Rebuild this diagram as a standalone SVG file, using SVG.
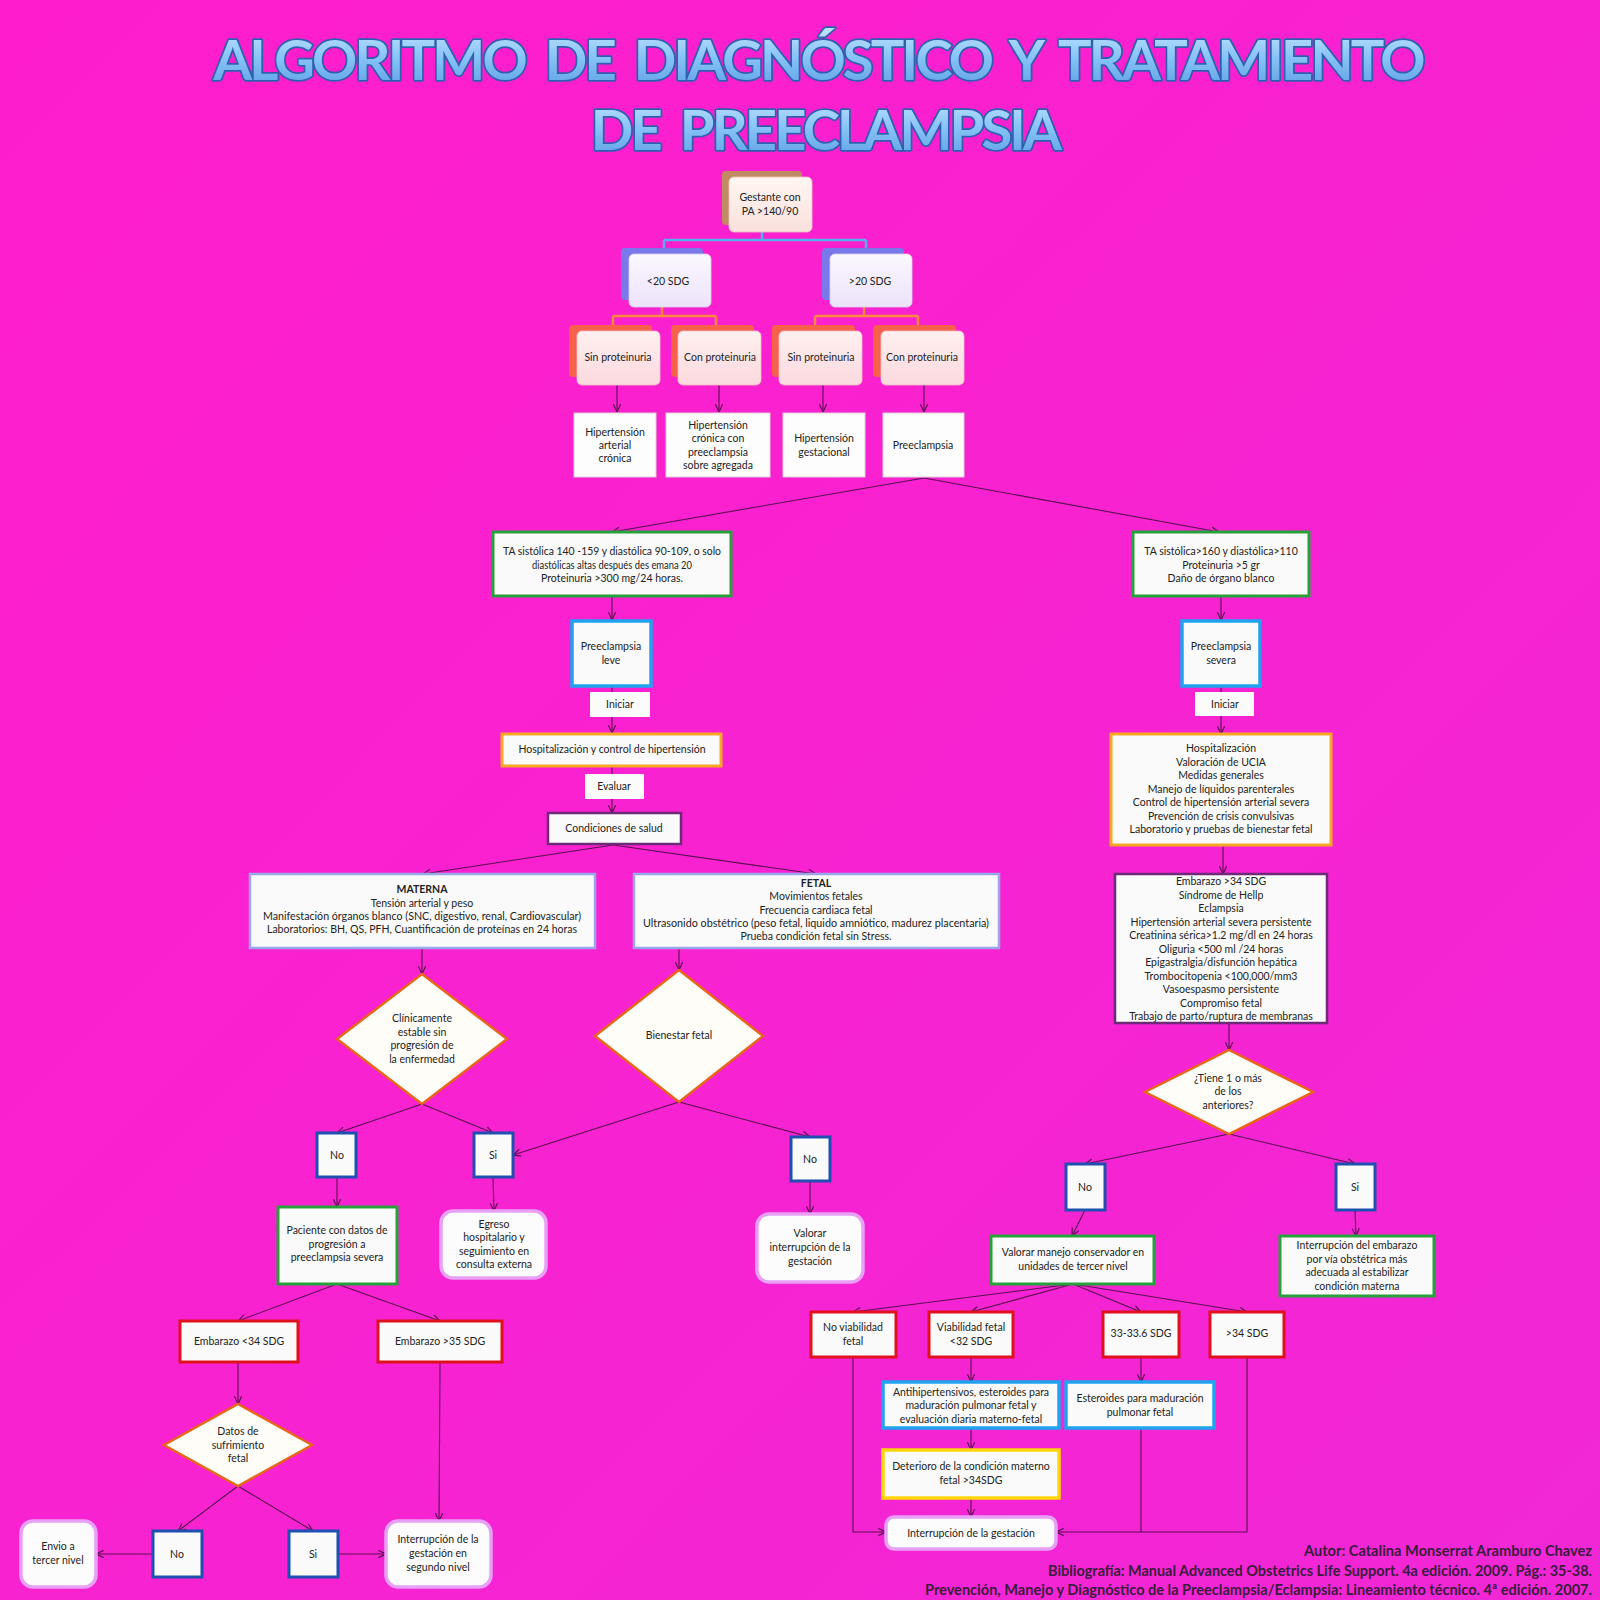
<svg xmlns="http://www.w3.org/2000/svg" width="1600" height="1600" viewBox="0 0 1600 1600">
<defs>
  <linearGradient id="bg" x1="0" y1="0" x2="1" y2="1">
    <stop offset="0" stop-color="#ff1dcb"/>
    <stop offset="1" stop-color="#f127d6"/>
  </linearGradient>
  <linearGradient id="titleFill" x1="0" y1="0" x2="0" y2="1">
    <stop offset="0" stop-color="#c4e6ff"/>
    <stop offset="0.5" stop-color="#86c2f6"/>
    <stop offset="1" stop-color="#5b9de4"/>
  </linearGradient>
  <linearGradient id="f1" x1="0" y1="0" x2="0" y2="1">
    <stop offset="0" stop-color="#fff6f2"/>
    <stop offset="1" stop-color="#f9e0dc"/>
  </linearGradient>
  <linearGradient id="f2" x1="0" y1="0" x2="0" y2="1">
    <stop offset="0" stop-color="#fbf8ff"/>
    <stop offset="1" stop-color="#ece2fa"/>
  </linearGradient>
  <linearGradient id="f3" x1="0" y1="0" x2="0" y2="1">
    <stop offset="0" stop-color="#fff0f0"/>
    <stop offset="1" stop-color="#fbd9de"/>
  </linearGradient>
  <marker id="ah" viewBox="0 0 10 10" refX="9.5" refY="5" markerWidth="9" markerHeight="9" orient="auto" markerUnits="userSpaceOnUse">
    <path d="M1,1 L9.5,5 L1,9" fill="none" stroke="#5a0f50" stroke-width="1.3"/>
  </marker>
  <style>
    .t{font-family:Lato,"Liberation Sans",sans-serif;font-size:10.5px;fill:#222;text-anchor:middle}
    .b{font-weight:bold}
    .plain{fill:#fdfdfd;stroke:#d8d0d8;stroke-width:1}
    .grn{fill:#fafafa;stroke:#27a13a;stroke-width:3}
    .cyan{fill:#fafafa;stroke:#1fa3f0;stroke-width:3.5}
    .orn{fill:#fafafa;stroke:#f6a824;stroke-width:3}
    .yel{fill:#fafafa;stroke:#ffd60a;stroke-width:3.5}
    .pur{fill:#fafafa;stroke:#6c2a78;stroke-width:2.5}
    .lav{fill:#fafafa;stroke:#9aa6ea;stroke-width:2.5}
    .blu{fill:#fafafa;stroke:#1f4fb0;stroke-width:3}
    .red{fill:#fafafa;stroke:#e0101c;stroke-width:3}
    .dia{fill:#fffdf8;stroke:#e8661a;stroke-width:2.5}
    .rnd{fill:#fcfcfc;stroke:#e7a0f6;stroke-width:3.5}
    .lbl{fill:#fbfbfb}
    .sh1{fill:#c28a62}
    .sh2{fill:#7a78ea}
    .sh3{fill:#f7604a}
    .fr1{fill:url(#f1);stroke:#e8c8c0;stroke-width:0.8}
    .fr2{fill:url(#f2);stroke:#d8d0f0;stroke-width:0.8}
    .fr3{fill:url(#f3);stroke:#f0c0c8;stroke-width:0.8}
    .cb{fill:none;stroke:#59aef0;stroke-width:2.5}
    .co{fill:none;stroke:#ff8a3c;stroke-width:2.5}
    .c{fill:none;stroke:#5a0f50;stroke-width:1.1}
    .a{fill:none;stroke:#5a0f50;stroke-width:1.1;marker-end:url(#ah)}
    .title{font-family:Lato,"Open Sans","Liberation Sans",sans-serif;font-weight:bold;font-size:56px;letter-spacing:-2.8px;word-spacing:9px;text-anchor:middle;fill:url(#titleFill);stroke:#2f5fae;stroke-width:3.5;stroke-linejoin:round;paint-order:stroke}
    .cred{font-family:Lato,"Liberation Sans",sans-serif;font-weight:bold;font-size:14.5px;text-anchor:end;fill:#3a1c3c}
  </style>
</defs>

<rect x="0" y="0" width="1600" height="1600" fill="url(#bg)"/>

<g id="title">
  <text class="title" x="818" y="80">ALGORITMO DE DIAGNÓSTICO Y TRATAMIENTO</text>
  <text class="title" x="825" y="150">DE PREECLAMPSIA</text>
</g>

<g id="connectors">
  <path class="cb" d="M762,232 V240 M664,240 H866 M664,240 V248 M866,240 V248"/>
  <path class="co" d="M662,307 V316 M613,316 H716 M613,316 V325 M716,316 V325"/>
  <path class="co" d="M864,307 V316 M815,316 H918 M815,316 V325 M918,316 V325"/>
  <line class="a" x1="617" y1="385" x2="617" y2="412"/>
  <line class="a" x1="719" y1="385" x2="719" y2="412"/>
  <line class="a" x1="823" y1="385" x2="823" y2="412"/>
  <line class="a" x1="924" y1="385" x2="924" y2="412"/>
  <line class="a" x1="924" y1="478" x2="612" y2="532"/>
  <line class="a" x1="924" y1="478" x2="1219" y2="532"/>
  <line class="a" x1="612" y1="596" x2="612" y2="620"/>
  <line class="a" x1="612" y1="686" x2="612" y2="733"/>
  <line class="a" x1="612" y1="766" x2="612" y2="813"/>
  <line class="a" x1="613" y1="845" x2="423" y2="874"/>
  <line class="a" x1="613" y1="845" x2="816" y2="874"/>
  <line class="a" x1="422" y1="948" x2="422" y2="974"/>
  <line class="a" x1="679" y1="948" x2="679" y2="970"/>
  <line class="a" x1="422" y1="1104" x2="337" y2="1133"/>
  <line class="a" x1="422" y1="1104" x2="493" y2="1133"/>
  <line class="a" x1="679" y1="1102" x2="513" y2="1155"/>
  <line class="a" x1="679" y1="1102" x2="810" y2="1137"/>
  <line class="a" x1="337" y1="1177" x2="337" y2="1207"/>
  <line class="a" x1="493" y1="1177" x2="494" y2="1211"/>
  <line class="a" x1="810" y1="1181" x2="810" y2="1214"/>
  <line class="a" x1="337" y1="1284" x2="238" y2="1321"/>
  <line class="a" x1="337" y1="1284" x2="440" y2="1321"/>
  <line class="a" x1="238" y1="1362" x2="238" y2="1404"/>
  <line class="a" x1="440" y1="1362" x2="439" y2="1521"/>
  <line class="a" x1="238" y1="1486" x2="178" y2="1531"/>
  <line class="a" x1="238" y1="1486" x2="313" y2="1531"/>
  <line class="a" x1="153" y1="1554" x2="96" y2="1554"/>
  <line class="a" x1="338" y1="1554" x2="386" y2="1554"/>
  <line class="a" x1="1221" y1="596" x2="1221" y2="620"/>
  <line class="a" x1="1221" y1="686" x2="1221" y2="734"/>
  <line class="a" x1="1223" y1="845" x2="1223" y2="874"/>
  <line class="a" x1="1229" y1="1023" x2="1229" y2="1050"/>
  <line class="a" x1="1229" y1="1134" x2="1085" y2="1164"/>
  <line class="a" x1="1229" y1="1134" x2="1355" y2="1164"/>
  <line class="a" x1="1085" y1="1210" x2="1072" y2="1236"/>
  <line class="a" x1="1355" y1="1210" x2="1356" y2="1236"/>
  <line class="a" x1="1073" y1="1284" x2="853" y2="1312"/>
  <line class="a" x1="1073" y1="1284" x2="971" y2="1312"/>
  <line class="a" x1="1073" y1="1284" x2="1141" y2="1312"/>
  <line class="a" x1="1073" y1="1284" x2="1247" y2="1312"/>
  <line class="a" x1="971" y1="1357" x2="971" y2="1382"/>
  <line class="a" x1="1141" y1="1357" x2="1141" y2="1382"/>
  <line class="a" x1="971" y1="1428" x2="971" y2="1450"/>
  <line class="a" x1="971" y1="1498" x2="971" y2="1517"/>
  <path class="a" d="M853,1357 V1532 H886"/>
  <line class="c" x1="1141" y1="1428" x2="1141" y2="1532"/>
  <path class="a" d="M1247,1357 V1532 H1056"/>
</g>

<g id="n-gestante">
  <rect class="sh1" x="722" y="171" width="80" height="54" rx="4"/>
  <rect class="fr1" x="729" y="177" width="83" height="55" rx="5"/>
  <text class="t" x="770" y="201">Gestante con</text>
  <text class="t" x="770" y="215">PA &gt;140/90</text>
</g>
<g id="n-menos20">
  <rect class="sh2" x="621" y="248" width="82" height="52" rx="4"/>
  <rect class="fr2" x="629" y="254" width="82" height="53" rx="5"/>
  <text class="t" x="668" y="285">&lt;20 SDG</text>
</g>
<g id="n-mas20">
  <rect class="sh2" x="822" y="248" width="82" height="52" rx="4"/>
  <rect class="fr2" x="830" y="254" width="82" height="53" rx="5"/>
  <text class="t" x="870" y="285">&gt;20 SDG</text>
</g>
<g id="n-sinprot1">
  <rect class="sh3" x="569" y="325" width="83" height="52" rx="4"/>
  <rect class="fr3" x="577" y="331" width="83" height="54" rx="5"/>
  <text class="t" x="618" y="361">Sin proteinuria</text>
</g>
<g id="n-conprot1">
  <rect class="sh3" x="671" y="325" width="83" height="52" rx="4"/>
  <rect class="fr3" x="678" y="331" width="83" height="54" rx="5"/>
  <text class="t" x="720" y="361">Con proteinuria</text>
</g>
<g id="n-sinprot2">
  <rect class="sh3" x="772" y="325" width="83" height="52" rx="4"/>
  <rect class="fr3" x="779" y="331" width="83" height="54" rx="5"/>
  <text class="t" x="821" y="361">Sin proteinuria</text>
</g>
<g id="n-conprot2">
  <rect class="sh3" x="873" y="325" width="83" height="52" rx="4"/>
  <rect class="fr3" x="881" y="331" width="83" height="54" rx="5"/>
  <text class="t" x="922" y="361">Con proteinuria</text>
</g>
<g id="n-hta-cronica">
  <rect class="plain" x="574" y="413" width="82" height="64"/>
  <text class="t" x="615" y="436">Hipertensión</text>
  <text class="t" x="615" y="449">arterial</text>
  <text class="t" x="615" y="462">crónica</text>
</g>
<g id="n-hta-cronica-pe">
  <rect class="plain" x="666" y="413" width="104" height="64"/>
  <text class="t" x="718" y="429">Hipertensión</text>
  <text class="t" x="718" y="442">crónica con</text>
  <text class="t" x="718" y="456">preeclampsia</text>
  <text class="t" x="718" y="469">sobre agregada</text>
</g>
<g id="n-hta-gest">
  <rect class="plain" x="783" y="413" width="82" height="64"/>
  <text class="t" x="824" y="442">Hipertensión</text>
  <text class="t" x="824" y="456">gestacional</text>
</g>
<g id="n-preeclampsia">
  <rect class="plain" x="883" y="413" width="81" height="64"/>
  <text class="t" x="923" y="449">Preeclampsia</text>
</g>

<g id="n-ta-leve">
  <rect class="grn" x="493" y="532" width="238" height="64"/>
  <text class="t" x="612" y="555" textLength="218" lengthAdjust="spacingAndGlyphs">TA sistólica 140 -159 y diastólica 90-109, o solo</text>
  <text class="t" x="612" y="569" textLength="160" lengthAdjust="spacingAndGlyphs">diastólicas altas después des emana 20</text>
  <text class="t" x="612" y="582">Proteinuria &gt;300 mg/24 horas.</text>
</g>
<g id="n-pe-leve">
  <rect class="cyan" x="572" y="621" width="79" height="65"/>
  <text class="t" x="611" y="650">Preeclampsia</text>
  <text class="t" x="611" y="664">leve</text>
</g>
<g id="n-iniciar1">
  <rect class="lbl" x="590" y="692" width="60" height="25"/>
  <text class="t" x="620" y="708">Iniciar</text>
</g>
<g id="n-hosp-leve">
  <rect class="orn" x="502" y="734" width="219" height="32"/>
  <text class="t" x="612" y="753">Hospitalización y control de hipertensión</text>
</g>
<g id="n-evaluar">
  <rect class="lbl" x="585" y="774" width="59" height="25"/>
  <text class="t" x="614" y="790">Evaluar</text>
</g>
<g id="n-condiciones">
  <rect class="pur" x="548" y="813" width="133" height="31"/>
  <text class="t" x="614" y="832">Condiciones de salud</text>
</g>
<g id="n-materna">
  <rect class="lav" x="250" y="874" width="345" height="74"/>
  <text class="t b" x="422" y="893">MATERNA</text>
  <text class="t" x="422" y="907">Tensión arterial y peso</text>
  <text class="t" x="422" y="920" textLength="318" lengthAdjust="spacingAndGlyphs">Manifestación órganos blanco (SNC, digestivo, renal, Cardiovascular)</text>
  <text class="t" x="422" y="933" textLength="310" lengthAdjust="spacingAndGlyphs">Laboratorios: BH, QS, PFH,  Cuantificación de proteínas en 24 horas</text>
</g>
<g id="n-fetal">
  <rect class="lav" x="634" y="874" width="365" height="74"/>
  <text class="t b" x="816" y="887">FETAL</text>
  <text class="t" x="816" y="900">Movimientos fetales</text>
  <text class="t" x="816" y="914">Frecuencia cardiaca fetal</text>
  <text class="t" x="816" y="927" textLength="346" lengthAdjust="spacingAndGlyphs">Ultrasonido obstétrico (peso fetal, liquido amniótico, madurez placentaria)</text>
  <text class="t" x="816" y="940">Prueba condición fetal sin Stress.</text>
</g>
<g id="n-clinicamente">
  <polygon class="dia" points="422,974 507,1039 422,1104 337,1039"/>
  <text class="t" x="422" y="1022">Clínicamente</text>
  <text class="t" x="422" y="1036">estable sin</text>
  <text class="t" x="422" y="1049">progresión de</text>
  <text class="t" x="422" y="1063">la enfermedad</text>
</g>
<g id="n-bienestar">
  <polygon class="dia" points="679,970 763,1036 679,1102 595,1036"/>
  <text class="t" x="679" y="1039">Bienestar fetal</text>
</g>
<g id="n-no1">
  <rect class="blu" x="317" y="1133" width="39" height="44"/>
  <text class="t" x="337" y="1159">No</text>
</g>
<g id="n-si1">
  <rect class="blu" x="474" y="1133" width="39" height="44"/>
  <text class="t" x="493" y="1159">Si</text>
</g>
<g id="n-no2">
  <rect class="blu" x="791" y="1137" width="39" height="44"/>
  <text class="t" x="810" y="1163">No</text>
</g>
<g id="n-paciente">
  <rect class="grn" x="278" y="1207" width="119" height="77"/>
  <text class="t" x="337" y="1234">Paciente con datos de</text>
  <text class="t" x="337" y="1248">progresión a</text>
  <text class="t" x="337" y="1261">preeclampsia severa</text>
</g>
<g id="n-egreso">
  <rect class="rnd" x="441" y="1211" width="105" height="67" rx="12"/>
  <text class="t" x="494" y="1228">Egreso</text>
  <text class="t" x="494" y="1241">hospitalario y</text>
  <text class="t" x="494" y="1255">seguimiento en</text>
  <text class="t" x="494" y="1268">consulta externa</text>
</g>
<g id="n-valorar-int">
  <rect class="rnd" x="757" y="1214" width="106" height="68" rx="12"/>
  <text class="t" x="810" y="1237">Valorar</text>
  <text class="t" x="810" y="1251">interrupción de la</text>
  <text class="t" x="810" y="1265">gestación</text>
</g>
<g id="n-emb34">
  <rect class="red" x="180" y="1321" width="118" height="41"/>
  <text class="t" x="239" y="1345">Embarazo &lt;34 SDG</text>
</g>
<g id="n-emb35">
  <rect class="red" x="378" y="1321" width="124" height="41"/>
  <text class="t" x="440" y="1345">Embarazo &gt;35 SDG</text>
</g>
<g id="n-sufrimiento">
  <polygon class="dia" points="238,1404 312,1445 238,1486 164,1445"/>
  <text class="t" x="238" y="1435">Datos de</text>
  <text class="t" x="238" y="1449">sufrimiento</text>
  <text class="t" x="238" y="1462">fetal</text>
</g>
<g id="n-no3">
  <rect class="blu" x="153" y="1531" width="49" height="46"/>
  <text class="t" x="177" y="1558">No</text>
</g>
<g id="n-si3">
  <rect class="blu" x="289" y="1531" width="49" height="46"/>
  <text class="t" x="313" y="1558">Si</text>
</g>
<g id="n-envio">
  <rect class="rnd" x="21" y="1521" width="75" height="66" rx="12"/>
  <text class="t" x="58" y="1550">Envio a</text>
  <text class="t" x="58" y="1564">tercer nivel</text>
</g>
<g id="n-int-segundo">
  <rect class="rnd" x="386" y="1521" width="105" height="66" rx="12"/>
  <text class="t" x="438" y="1543">Interrupción de la</text>
  <text class="t" x="438" y="1557">gestación en</text>
  <text class="t" x="438" y="1571">segundo nivel</text>
</g>

<g id="n-ta-severa">
  <rect class="grn" x="1133" y="532" width="176" height="64"/>
  <text class="t" x="1221" y="555">TA sistólica&gt;160 y diastólica&gt;110</text>
  <text class="t" x="1221" y="569">Proteinuria &gt;5 gr</text>
  <text class="t" x="1221" y="582">Daño de órgano blanco</text>
</g>
<g id="n-pe-severa">
  <rect class="cyan" x="1182" y="621" width="78" height="65"/>
  <text class="t" x="1221" y="650">Preeclampsia</text>
  <text class="t" x="1221" y="664">severa</text>
</g>
<g id="n-iniciar2">
  <rect class="lbl" x="1195" y="692" width="59" height="24"/>
  <text class="t" x="1225" y="708">Iniciar</text>
</g>
<g id="n-hosp-severa">
  <rect class="orn" x="1111" y="734" width="220" height="111"/>
  <text class="t" x="1221" y="752">Hospitalización</text>
  <text class="t" x="1221" y="766">Valoración de UCIA</text>
  <text class="t" x="1221" y="779">Medidas generales</text>
  <text class="t" x="1221" y="793">Manejo de líquidos parenterales</text>
  <text class="t" x="1221" y="806">Control de hipertensión arterial severa</text>
  <text class="t" x="1221" y="820">Prevención de crisis convulsivas</text>
  <text class="t" x="1221" y="833">Laboratorio y pruebas de bienestar fetal</text>
</g>
<g id="n-criterios">
  <rect class="pur" x="1115" y="874" width="212" height="149"/>
  <text class="t" x="1221" y="885">Embarazo &gt;34 SDG</text>
  <text class="t" x="1221" y="899">Síndrome de Hellp</text>
  <text class="t" x="1221" y="912">Eclampsia</text>
  <text class="t" x="1221" y="926">Hipertensión arterial severa persistente</text>
  <text class="t" x="1221" y="939">Creatinina sérica&gt;1.2 mg/dl en  24 horas</text>
  <text class="t" x="1221" y="953">Oliguria &lt;500 ml /24 horas</text>
  <text class="t" x="1221" y="966">Epigastralgia/disfunción hepática</text>
  <text class="t" x="1221" y="980">Trombocitopenia &lt;100,000/mm3</text>
  <text class="t" x="1221" y="993">Vasoespasmo persistente</text>
  <text class="t" x="1221" y="1007">Compromiso fetal</text>
  <text class="t" x="1221" y="1020">Trabajo de parto/ruptura de membranas</text>
</g>
<g id="n-tiene">
  <polygon class="dia" points="1229,1050 1313,1092 1229,1134 1145,1092"/>
  <text class="t" x="1228" y="1082">¿Tiene 1 o más</text>
  <text class="t" x="1228" y="1095">de los</text>
  <text class="t" x="1228" y="1109">anteriores?</text>
</g>
<g id="n-no4">
  <rect class="blu" x="1066" y="1164" width="39" height="46"/>
  <text class="t" x="1085" y="1191">No</text>
</g>
<g id="n-si4">
  <rect class="blu" x="1336" y="1164" width="39" height="46"/>
  <text class="t" x="1355" y="1191">Si</text>
</g>
<g id="n-valorar-manejo">
  <rect class="grn" x="991" y="1236" width="163" height="48"/>
  <text class="t" x="1073" y="1256">Valorar manejo conservador en</text>
  <text class="t" x="1073" y="1270">unidades de tercer  nivel</text>
</g>
<g id="n-int-embarazo">
  <rect class="grn" x="1280" y="1236" width="154" height="60"/>
  <text class="t" x="1357" y="1249">Interrupción del embarazo</text>
  <text class="t" x="1357" y="1263">por vía obstétrica más</text>
  <text class="t" x="1357" y="1276">adecuada al estabilizar</text>
  <text class="t" x="1357" y="1290">condición materna</text>
</g>
<g id="n-no-viab">
  <rect class="red" x="811" y="1312" width="85" height="45"/>
  <text class="t" x="853" y="1331">No viabilidad</text>
  <text class="t" x="853" y="1345">fetal</text>
</g>
<g id="n-viab32">
  <rect class="red" x="929" y="1312" width="84" height="45"/>
  <text class="t" x="971" y="1331">Viabilidad fetal</text>
  <text class="t" x="971" y="1345">&lt;32 SDG</text>
</g>
<g id="n-33">
  <rect class="red" x="1103" y="1312" width="76" height="45"/>
  <text class="t" x="1141" y="1337">33-33.6 SDG</text>
</g>
<g id="n-34">
  <rect class="red" x="1210" y="1312" width="74" height="45"/>
  <text class="t" x="1247" y="1337">&gt;34 SDG</text>
</g>
<g id="n-antihip">
  <rect class="cyan" x="883" y="1382" width="176" height="46"/>
  <text class="t" x="971" y="1396">Antihipertensivos, esteroides para</text>
  <text class="t" x="971" y="1409">maduración pulmonar fetal y</text>
  <text class="t" x="971" y="1423">evaluación diaria materno-fetal</text>
</g>
<g id="n-esteroides">
  <rect class="cyan" x="1066" y="1382" width="148" height="46"/>
  <text class="t" x="1140" y="1402">Esteroides para maduración</text>
  <text class="t" x="1140" y="1416">pulmonar fetal</text>
</g>
<g id="n-deterioro">
  <rect class="yel" x="883" y="1450" width="176" height="48"/>
  <text class="t" x="971" y="1470">Deterioro de  la condición materno</text>
  <text class="t" x="971" y="1484">fetal &gt;34SDG</text>
</g>
<g id="n-int-gestacion">
  <rect class="rnd" x="886" y="1517" width="170" height="32" rx="8"/>
  <text class="t" x="971" y="1537">Interrupción de la gestación</text>
</g>

<g id="credits">
  <text class="cred" x="1592" y="1556" textLength="288" lengthAdjust="spacingAndGlyphs">Autor: Catalina Monserrat Aramburo Chavez</text>
  <text class="cred" x="1592" y="1576" textLength="544" lengthAdjust="spacingAndGlyphs">Bibliografía: Manual Advanced Obstetrics Life Support. 4a edición. 2009. Pág.: 35-38.</text>
  <text class="cred" x="1592" y="1595" textLength="667" lengthAdjust="spacingAndGlyphs">Prevención, Manejo y Diagnóstico de la Preeclampsia/Eclampsia: Lineamiento técnico. 4ª edición. 2007.</text>
</g>
</svg>
